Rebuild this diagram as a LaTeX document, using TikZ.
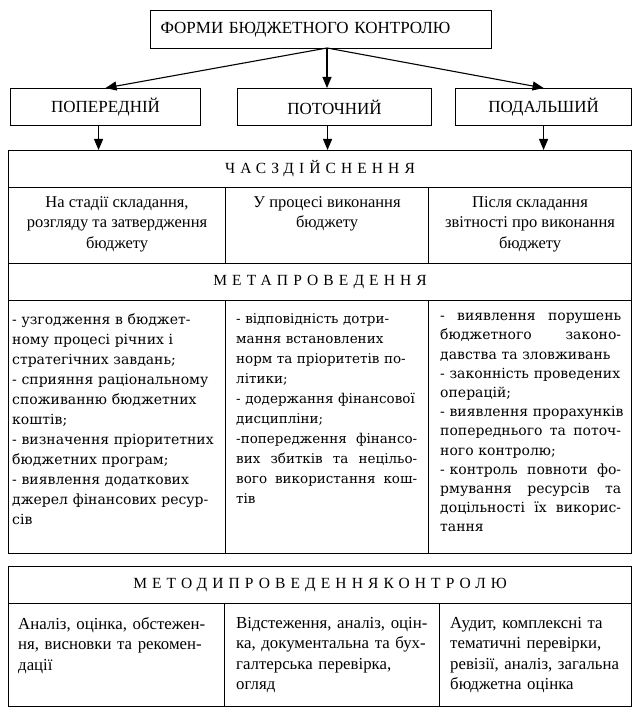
\documentclass[tikz,border=0pt]{standalone}
\usepackage{fontspec}
\setmainfont{Liberation Serif}
\newfontfamily\bodyfont{DejaVu Serif}
\newfontfamily\spacedfont[LetterSpace=33]{Liberation Serif}
\usetikzlibrary{arrows.meta}
\setlength{\parindent}{0pt}
\newlength{\cellw}
\setlength{\cellw}{181pt}
\newcommand{\jl}[1]{\makebox[\cellw][l]{#1}}
\begin{document}
\begin{tikzpicture}[x=1pt,y=-1pt,
  box/.style={draw, line width=1.1pt, inner sep=0pt, anchor=north west},
  arr/.style={line width=1.1pt, -{Triangle[length=11pt,width=9pt]}},
  headfont/.style={font=\fontsize{17}{20}\selectfont},
  bandtext/.style={font=\spacedfont\fontsize{15.5}{18}\selectfont},
  ttext/.style={anchor=north, align=center, inner sep=0pt, font=\fontsize{16.5}{20.5}\selectfont},
  mtext/.style={anchor=north west, align=left, inner sep=0pt, font=\bodyfont\fontsize{14}{20}\selectfont},
  btext/.style={anchor=north west, align=left, inner sep=0pt, font=\fontsize{16.8}{20.5}\selectfont}]
\useasboundingbox (0,0) rectangle (644,719);
\fill[white] (0,0) rectangle (644,719);

% top
\node[box, text width=321pt, inner xsep=10pt, minimum height=38pt, align=left,
  font=\fontsize{17}{20}\selectfont] (top) at (150,10) {ФОРМИ БЮДЖЕТНОГО КОНТРОЛЮ};

% forms
\node[box, minimum width=190pt, minimum height=37pt, headfont] (pop) at (10,88) {ПОПЕРЕДНІЙ};
\node[box, minimum width=194pt, minimum height=37pt, headfont] (pot) at (237,88) {ПОТОЧНИЙ};
\node[box, minimum width=176pt, minimum height=37pt, headfont] (pod) at (455,88) {ПОДАЛЬШИЙ};

\coordinate (src) at (327,48);
\draw[arr] (src) -- (pop.north);
\draw[arr] (src) -- (src |- pot.north);
\draw[arr] (src) -- (pod.north);

% time
\node[box, minimum width=623pt, minimum height=37pt, bandtext] (chas) at (8,150) {ЧАСЗДІЙСНЕННЯ};
\node[box, minimum width=217pt, minimum height=76pt] (t1) at (8,187) {};
\node[box, minimum width=203pt, minimum height=76pt] (t2) at (225,187) {};
\node[box, minimum width=203pt, minimum height=76pt] (t3) at (428,187) {};
\node[ttext] (t1x) at ([yshift=-9pt]t1.north) {На стадії складання,\\розгляду та затвердження\\бюджету};
\node[ttext] (t2x) at ([yshift=-9pt]t2.north) {У процесі виконання\\бюджету};
\node[ttext] (t3x) at ([yshift=-9pt]t3.north) {Після складання\\звітності про виконання\\бюджету};

\draw[arr] ([xshift=-7pt]pop.south) -- ([xshift=-7pt]pop.south |- chas.north);
\draw[arr] ([xshift=-7pt]pot.south) -- ([xshift=-7pt]pot.south |- chas.north);
\draw[arr] (pod.south) -- (pod.south |- chas.north);

% aim
\node[box, minimum width=623pt, minimum height=37pt, bandtext] (meta) at (8,263) {МЕТАПРОВЕДЕННЯ};
\node[box, minimum width=217pt, minimum height=253pt] (m1) at (8,300) {};
\node[box, minimum width=203pt, minimum height=253pt] (m2) at (225,300) {};
\node[box, minimum width=203pt, minimum height=253pt] (m3) at (428,300) {};
\node[mtext, text width=207pt] (m1x) at ([xshift=4pt,yshift=-13pt]m1.north west)
 {- узгодження в бюджет-\\ному процесі річних і\\стратегічних завдань;\\- сприяння раціональному\\споживанню бюджетних\\коштів;\\- визначення пріоритетних\\бюджетних програм;\\- виявлення додаткових\\джерел фінансових ресур-\\сів};
\node[mtext, text width=192pt, font=\bodyfont\fontsize{13.5}{20}\selectfont] (m2x) at ([xshift=11pt,yshift=-13pt]m2.north west)
 {- відповідність дотри-\\мання встановлених\\норм та пріоритетів по-\\літики;\\- додержання фінансової\\дисципліни;\\\jl{-попередження\hfill фінансо-}\\\jl{вих\hfill збитків\hfill та\hfill нецільо-}\\\jl{вого\hfill використання\hfill кош-}\\тів};
\node[mtext, text width=185pt, font=\bodyfont\fontsize{14}{19.2}\selectfont] (m3x) at ([xshift=12pt,yshift=-13pt]m3.north west)
 {\jl{-\hfill виявлення\hfill порушень}\\\jl{бюджетного\hfill законо-}\\давства та зловживань\\- законність проведених\\операцій;\\- виявлення прорахунків\\\jl{попереднього\hfill та\hfill поточ-}\\ного контролю;\\\jl{- контроль\hfill повноти\hfill фо-}\\\jl{рмування\hfill ресурсів\hfill та}\\\jl{доцільності\hfill їх\hfill викорис-}\\тання};

% methods
\node[box, minimum width=623pt, minimum height=37pt, bandtext] (metod) at (8,566) {МЕТОДИПРОВЕДЕННЯКОНТРОЛЮ};
\node[box, minimum width=216pt, minimum height=103pt] (b1) at (8,603) {};
\node[box, minimum width=215pt, minimum height=103pt] (b2) at (224,603) {};
\node[box, minimum width=192pt, minimum height=103pt] (b3) at (439,603) {};
\node[btext, text width=200pt] (b1x) at ([xshift=10pt,yshift=-14pt]b1.north west)
 {Аналіз, оцінка, обстежен-\\ня, висновки та рекомен-\\дації};
\node[btext, text width=200pt] (b2x) at ([xshift=12pt,yshift=-14pt]b2.north west)
 {Відстеження, аналіз, оцін-\\ка, документальна та бух-\\галтерська перевірка,\\огляд};
\node[btext, text width=178pt] (b3x) at ([xshift=11pt,yshift=-14pt]b3.north west)
 {Аудит, комплексні та\\тематичні перевірки,\\ревізії, аналіз, загальна\\бюджетна оцінка};
\end{tikzpicture}
\end{document}
